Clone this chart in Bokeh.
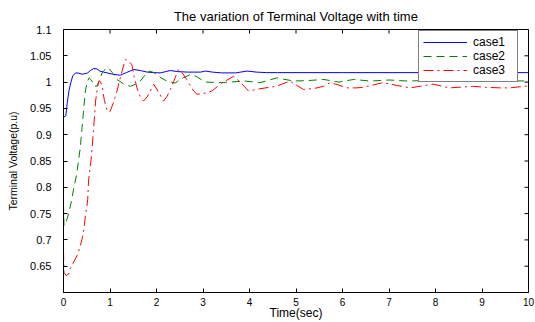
import math
from bokeh.plotting import figure
from bokeh.models import Range1d, FixedTicker, Legend, LegendItem
from bokeh.embed import file_html
from bokeh.resources import INLINE

# ---- data ----
t1 = [0, 0.05, 0.08, 0.12, 0.16, 0.2, 0.26, 0.33, 0.4, 0.46, 0.52, 0.58, 0.65, 0.72, 0.78,
      0.86, 0.94, 1.05, 1.22, 1.35, 1.51, 1.65, 1.8, 1.95, 2.08, 2.2, 2.3, 2.45, 2.66, 2.8,
      2.95, 3.05, 3.2, 3.4, 3.7, 3.95, 4.15, 4.37, 4.6, 5, 6, 7, 8, 9, 10]
case1 = [0.933, 0.936, 0.96, 0.985, 1.0, 1.012, 1.0175, 1.017, 1.015, 1.016, 1.0175, 1.022,
         1.026, 1.025, 1.021, 1.019, 1.0175, 1.015, 1.013, 1.018, 1.024, 1.022, 1.019, 1.018,
         1.0175, 1.02, 1.022, 1.02, 1.019, 1.019, 1.019, 1.021, 1.019, 1.0175, 1.0175, 1.021,
         1.019, 1.018, 1.018, 1.018, 1.018, 1.018, 1.018, 1.018, 1.018]

t2 = [0, 0.01, 0.06, 0.11, 0.17, 0.22, 0.28, 0.33, 0.36, 0.4, 0.44, 0.47, 0.51, 0.55, 0.6,
      0.66, 0.71, 0.76, 0.83, 0.9, 0.97, 1.05, 1.15, 1.3, 1.44, 1.55, 1.65, 1.75, 1.83, 1.92,
      2.0, 2.1, 2.22, 2.4, 2.52, 2.72, 2.85, 3.05, 3.4, 3.9, 4.23, 4.59, 4.95, 5.27, 5.6, 5.92,
      6.24, 6.6, 7.0, 7.4, 7.8, 8.2, 8.6, 9.0, 9.4, 10]
case2 = [0.767, 0.727, 0.735, 0.75, 0.773, 0.798, 0.823, 0.855, 0.875, 0.914, 0.955, 0.983,
         1.0, 1.008, 1.004, 0.993, 0.992, 1.0, 1.0175, 1.025, 1.027, 1.018, 1.005, 0.996,
         0.992, 0.996, 1.002, 1.013, 1.021, 1.019, 1.015, 1.008, 1.002, 0.998, 1.006, 1.014,
         1.011, 1.0, 0.999, 1.002, 0.999, 1.008, 1.002, 1.003, 1.005, 1.0, 1.005, 1.002,
         1.004, 1.002, 1.003, 1.002, 1.003, 1.002, 1.003, 1.002]

t3 = [0, 0.01, 0.06, 0.11, 0.15, 0.22, 0.29, 0.35, 0.4, 0.44, 0.47, 0.5, 0.52, 0.54, 0.57,
      0.6, 0.65, 0.69, 0.73, 0.76, 0.8, 0.83, 0.88, 0.94, 1.0, 1.07, 1.15, 1.24, 1.33, 1.4,
      1.47, 1.52, 1.58, 1.65, 1.72, 1.8, 1.94, 2.05, 2.15, 2.22, 2.3, 2.4, 2.47, 2.55, 2.65,
      2.8, 2.87, 3.0, 3.19, 3.4, 3.66, 3.8, 3.98, 4.2, 4.57, 4.87, 5.16, 5.4, 5.59, 5.73, 5.9,
      6.09, 6.3, 6.44, 6.87, 7.15, 7.45, 7.95, 8.3, 8.8, 9.1, 9.4, 9.6, 9.9, 10]
case3 = [0.68, 0.638, 0.632, 0.635, 0.646, 0.658, 0.67, 0.685, 0.702, 0.72, 0.745, 0.762,
         0.776, 0.814, 0.835, 0.858, 0.915, 0.964, 0.99, 1.002, 1.0, 0.992, 0.965, 0.945,
         0.944, 0.96, 0.983, 1.015, 1.043, 1.04, 1.033, 1.01, 0.989, 0.972, 0.964, 0.972,
         0.996, 0.98, 0.964, 0.972, 0.986, 1.008, 1.024, 1.018, 1.005, 0.983, 0.977, 0.978,
         0.983, 0.998, 1.011, 1.0, 0.983, 0.987, 0.992, 1.002, 0.986, 0.988, 0.992, 0.999,
         0.995, 0.989, 0.989, 0.99, 0.999, 0.994, 0.989, 0.996, 0.989, 0.992, 0.99, 0.989,
         0.989, 0.992, 0.993]

series_names = ["case1", "case2", "case3"]
x_ticks = list(range(0, 11))
y_ticks = [0.65, 0.7, 0.75, 0.8, 0.85, 0.9, 0.95, 1.0, 1.05, 1.1]
y_tick_labels = ["0.65", "0.7", "0.75", "0.8", "0.85", "0.9", "0.95", "1", "1.05", "1.1"]

FONT = "Liberation Sans"

p = figure(width=535, height=322, output_backend="svg", toolbar_location=None,
           x_range=Range1d(0, 10), y_range=Range1d(0.6, 1.1),
           min_border_left=63, min_border_right=7, min_border_top=29, min_border_bottom=28,
           title="The variation of Terminal Voltage with time")
p.background_fill_color = "white"
p.border_fill_color = "white"
p.outline_line_color = "black"
p.grid.visible = False

p.title.align = "center"
p.title.text_font = FONT
p.title.text_font_size = "13px"
p.title.text_font_style = "normal"
p.title.text_color = "black"
p.title.standoff = 12

r1 = p.line(t1, case1, line_color="#0000ff", line_width=1)
r2 = p.line(t2, case2, line_color="#008000", line_width=1, line_dash="8 5")
r3 = p.line(t3, case3, line_color="#ff0000", line_width=1, line_dash="10 4 2 4")

for ax in (p.xaxis[0], p.yaxis[0]):
    ax.major_tick_in = 4
    ax.major_tick_out = 0
    ax.minor_tick_line_color = None
    ax.axis_line_color = "black"
    ax.major_tick_line_color = "black"
    ax.major_label_text_font = FONT
    ax.major_label_text_color = "black"
    ax.axis_label_text_font = FONT
    ax.axis_label_text_font_style = "normal"
    ax.axis_label_text_color = "black"

p.xaxis[0].ticker = FixedTicker(ticks=x_ticks)
p.yaxis[0].ticker = FixedTicker(ticks=y_ticks)
p.yaxis[0].major_label_overrides = {v: s for v, s in zip(y_ticks, y_tick_labels)}
p.xaxis[0].axis_label = "Time(sec)"
p.yaxis[0].axis_label = "Terminal Voltage(p.u)"
p.xaxis[0].major_label_text_font_size = "10px"
p.yaxis[0].major_label_text_font_size = "11px"
p.xaxis[0].axis_label_text_font_size = "12px"
p.yaxis[0].axis_label_text_font_size = "10.5px"
p.xaxis[0].major_label_standoff = 5
p.xaxis[0].axis_label_standoff = -3
p.yaxis[0].major_label_standoff = 12
p.yaxis[0].axis_label_standoff = 8

# mirrored inward tick marks on the top and right edges of the box
p.scatter(x=x_ticks, y=[p.y_range.end] * len(x_ticks), marker="dash", size=8,
          angle=math.pi / 2, line_color="black", line_width=1)
p.scatter(x=[p.x_range.end] * len(y_ticks), y=y_ticks, marker="dash", size=8,
          line_color="black", line_width=1)

legend = Legend(items=[LegendItem(label=series_names[0], renderers=[r1]),
                       LegendItem(label=series_names[1], renderers=[r2]),
                       LegendItem(label=series_names[2], renderers=[r3])],
                location=(355, 210))
legend.border_line_color = "black"
legend.border_line_width = 1
legend.background_fill_color = "white"
legend.background_fill_alpha = 1
legend.label_text_font = FONT
legend.label_text_font_size = "12px"
legend.label_text_color = "black"
legend.glyph_width = 44
legend.glyph_height = 14
legend.label_height = 14
legend.label_width = 40
legend.label_standoff = 6
legend.spacing = 0
legend.padding = 4
legend.margin = 0
p.add_layout(legend, "center")

open("out.html", "w").write(file_html(p, INLINE))
